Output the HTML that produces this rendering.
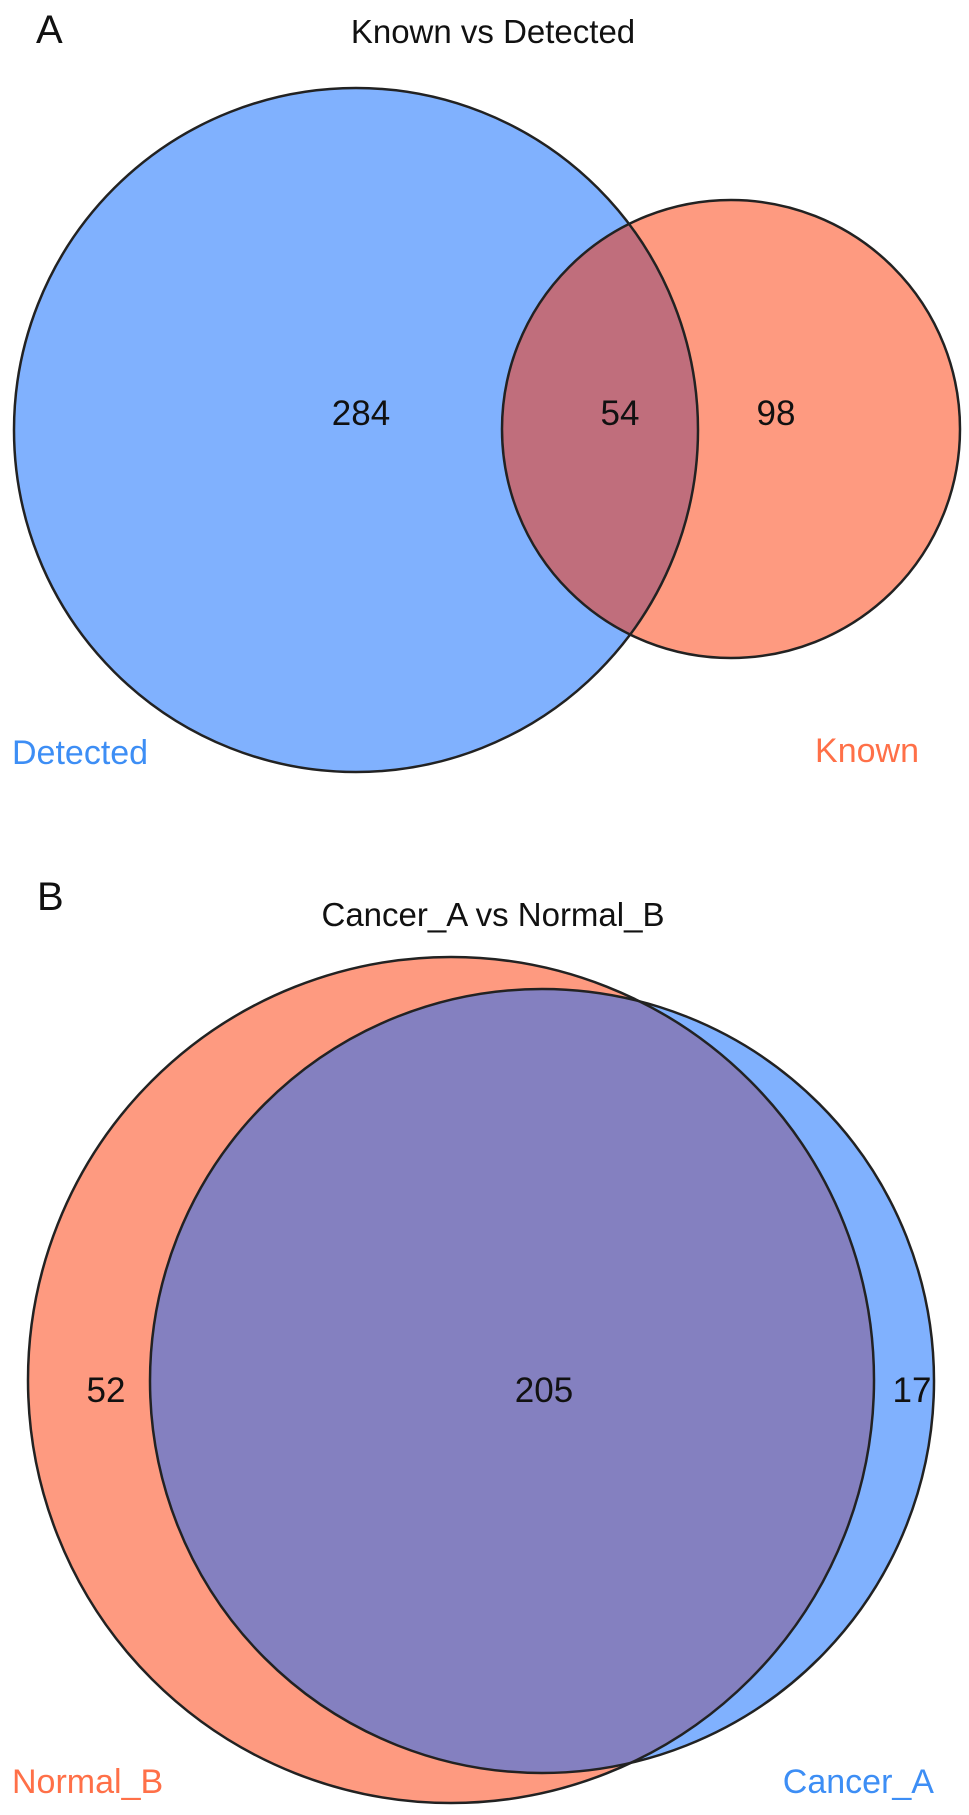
<!DOCTYPE html>
<html><head><meta charset="utf-8"><style>html,body{margin:0;padding:0;background:#fff}svg{display:block}text{font-family:"Liberation Sans",sans-serif}</style></head>
<body>
<svg id="chart" width="969" height="1815" viewBox="0 0 969 1815" xmlns="http://www.w3.org/2000/svg">
<defs>
<clipPath id="clipA"><circle cx="731" cy="429" r="229"/></clipPath>
<clipPath id="clipB"><circle cx="451" cy="1380" r="423"/></clipPath>
</defs>
<g id="panelA">
<text x="36" y="43" font-size="40" fill="#111">A</text>
<text x="493" y="43" font-size="33" text-anchor="middle" fill="#111">Known vs Detected</text>
<circle cx="356" cy="430" r="342" fill="#80b1fe"/>
<circle cx="731" cy="429" r="229" fill="#fe9a80"/>
<circle cx="356" cy="430" r="342" fill="#c06e7c" clip-path="url(#clipA)"/>
<circle cx="356" cy="430" r="342" fill="none" stroke="#222" stroke-width="2.5"/>
<circle cx="731" cy="429" r="229" fill="none" stroke="#222" stroke-width="2.5"/>
<text id="a0" x="361" y="425" font-size="35" text-anchor="middle" fill="#111"></text>
<text id="a1" x="620" y="425" font-size="35" text-anchor="middle" fill="#111"></text>
<text id="a2" x="776" y="425" font-size="35" text-anchor="middle" fill="#111"></text>
<text x="12" y="764" font-size="34" fill="#3d8ef5">Detected</text>
<text x="919" y="762" font-size="34" text-anchor="end" fill="#ff7048">Known</text>
</g>
<g id="panelB">
<text x="37" y="910" font-size="40" fill="#111">B</text>
<text x="493" y="926" font-size="33" text-anchor="middle" fill="#111">Cancer_A vs Normal_B</text>
<circle cx="451" cy="1380" r="423" fill="#fe9a80"/>
<circle cx="542" cy="1381" r="392" fill="#80b1fe"/>
<circle cx="542" cy="1381" r="392" fill="#8480c0" clip-path="url(#clipB)"/>
<circle cx="451" cy="1380" r="423" fill="none" stroke="#222" stroke-width="2.5"/>
<circle cx="542" cy="1381" r="392" fill="none" stroke="#222" stroke-width="2.5"/>
<text id="b0" x="106" y="1402" font-size="35" text-anchor="middle" fill="#111"></text>
<text id="b1" x="544" y="1402" font-size="35" text-anchor="middle" fill="#111"></text>
<text id="b2" x="912" y="1402" font-size="35" text-anchor="middle" fill="#111"></text>
<text x="12" y="1793" font-size="34" fill="#ff7048">Normal_B</text>
<text x="934" y="1793" font-size="34" text-anchor="end" fill="#3d8ef5">Cancer_A</text>
</g>
</svg>
<script>
const regionsA = ["Detected only", "Both", "Known only"];
const countsA = [284, 54, 98];
const regionsB = ["Normal_B only", "Both", "Cancer_A only"];
const countsB = [52, 205, 17];
countsA.forEach((v, i) => { document.getElementById('a' + i).textContent = v; });
countsB.forEach((v, i) => { document.getElementById('b' + i).textContent = v; });
</script>
</body></html>
